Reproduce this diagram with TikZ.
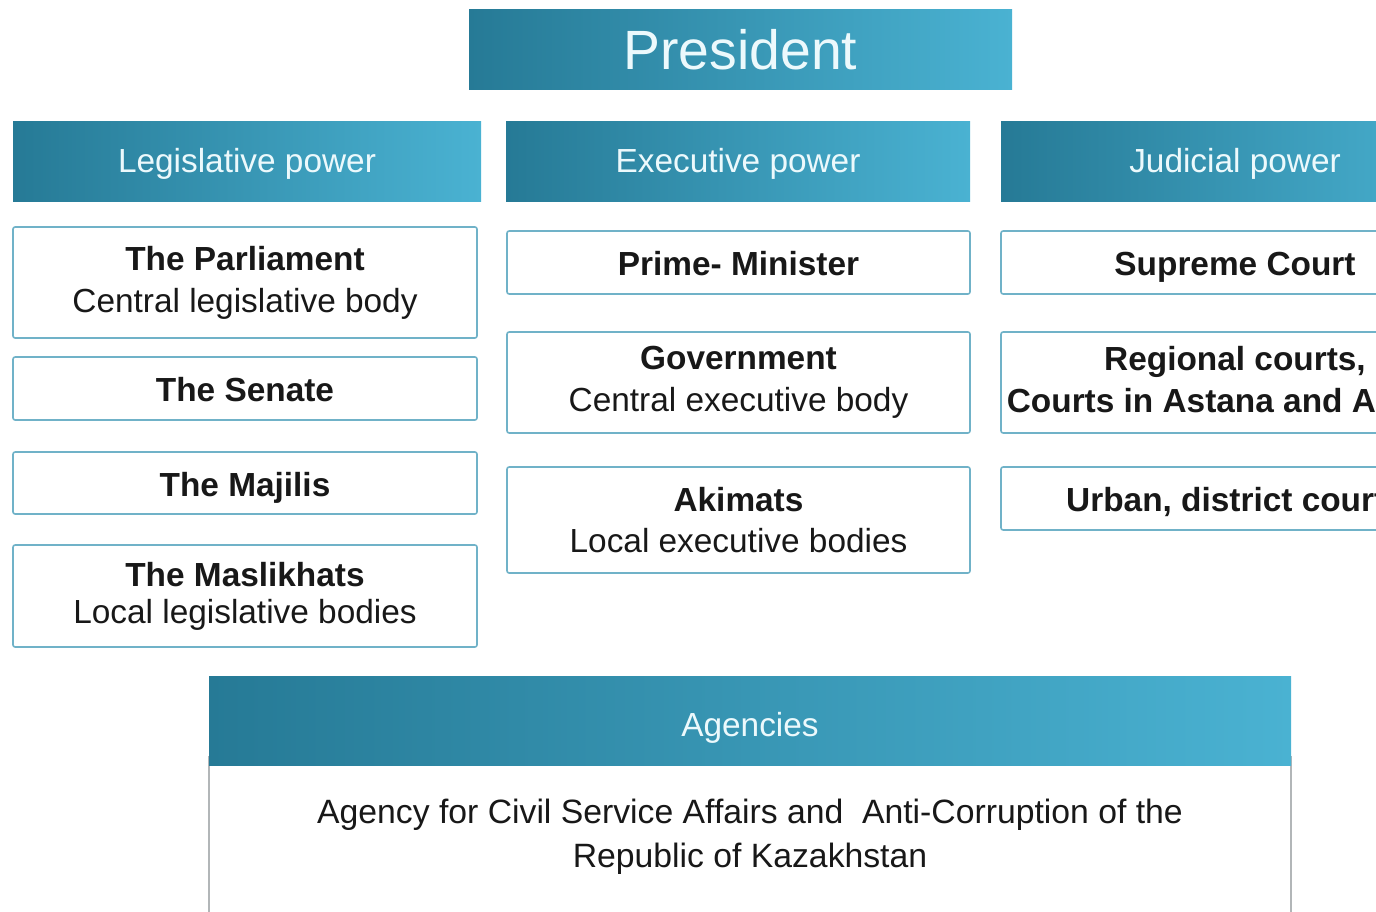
\documentclass[tikz,border=0pt]{standalone}
\usepackage{fontspec}
\setmainfont{Liberation Sans}
\usepackage{xcolor}
\usetikzlibrary{shapes.misc}

\definecolor{tealdark}{RGB}{38,122,150}
\definecolor{teallight}{RGB}{74,178,210}
\definecolor{headtext}{RGB}{236,249,252}
\definecolor{boxline}{RGB}{112,178,200}
\definecolor{bodyline}{RGB}{178,182,184}
\definecolor{bodytext}{RGB}{24,24,24}

\tikzset{>=latex,
	head/.style={rectangle, left color=tealdark, right color=teallight, text=headtext, inner sep=0pt, text height=12.5pt, text depth=0pt, font=\fontsize{19}{23}\selectfont},
	box/.style={rectangle, draw=boxline, line width=0.9pt, rounded corners=1.2pt, fill=white, align=center, text=bodytext, inner sep=0pt, font=\fontsize{19}{24}\selectfont},
	single/.style={box, text height=15.3pt, text depth=0pt}
}

\begin{document}
\begin{tikzpicture}[x=0.02cm, y=-0.02cm]

\def\u{0.02cm}
\def\wl{464}
\def\wm{463}
\def\wr{468}

\useasboundingbox (0,0) rectangle (1376,912);
\clip (0,0) rectangle (1376,912);

% Top
\node[head, minimum width=543*\u, minimum height=80*\u, text height=22.7pt, font=\fontsize{31.5}{36}\selectfont] (pres) at (740.5,50) {President};

% Branch headers
\node[head, minimum width=468*\u, minimum height=80*\u] (leg) at (247,162) {Legislative power};
\node[head, minimum width=464*\u, minimum height=80*\u] (exe) at (738,162) {Executive power};
\node[head, minimum width=468*\u, minimum height=80*\u] (jud) at (1235,162) {Judicial power};

% Legislative column
\node[box, minimum width=\wl*\u, minimum height=111*\u] (parl) at (245,282.5) {\bfseries The Parliament\\ Central legislative body};
\node[single, minimum width=\wl*\u, minimum height=63*\u] (senate) at (245,388.5) {\bfseries The Senate};
\node[single, minimum width=\wl*\u, minimum height=62*\u] (majilis) at (245,483) {\bfseries The Majilis};
\node[box, minimum width=\wl*\u, minimum height=102*\u] (maslikhats) at (245,596) {\bfseries The Maslikhats\\[-3pt] Local legislative bodies};

% Executive column
\node[single, minimum width=\wm*\u, minimum height=63*\u] (pm) at (738.5,262.5) {\bfseries Prime- Minister};
\node[box, minimum width=\wm*\u, minimum height=101*\u] (gov) at (738.5,382.5) {\bfseries Government\\ Central executive body};
\node[box, minimum width=\wm*\u, minimum height=106*\u] (akimats) at (738.5,520) {\bfseries Akimats\\[-1pt] Local executive bodies};

% Judicial column (runs past the right edge)
\node[single, minimum width=\wr*\u, minimum height=63*\u] (supreme) at (1235,262.5) {\bfseries Supreme Court};
\node[box, minimum width=\wr*\u, minimum height=101*\u, font=\fontsize{19}{24}\selectfont\bfseries] (regional) at (1235,382.5) {Regional courts,\\ Courts in Astana and Almaty};
\node[single, minimum width=\wr*\u, minimum height=63*\u] (urban) at (1235,498.5) {\bfseries Urban, district courts};

% Agencies (body runs past the bottom edge)
\node[box, draw=bodyline, rounded corners=0pt, minimum width=1082*\u, minimum height=176*\u, text depth=13.1pt, font=\fontsize{19.2}{25}\selectfont] (agbody) at (750,845) {Agency for Civil Service Affairs and\ \ Anti-Corruption of the\\ Republic of Kazakhstan};
\node[head, minimum width=1082*\u, minimum height=89*\u, text height=18.7pt] (agencies) at (750,720.5) {Agencies};

\end{tikzpicture}
\end{document}
